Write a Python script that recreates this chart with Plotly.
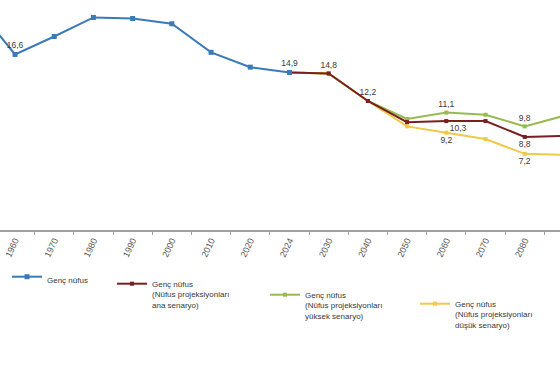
import plotly.graph_objects as go

# ---- data ----
years = ["1950", "1960", "1970", "1980", "1990", "2000", "2010", "2020", "2024",
         "2030", "2040", "2050", "2060", "2070", "2080", "2090"]

obs_years = ["1950", "1960", "1970", "1980", "1990", "2000", "2010", "2020", "2024"]
obs_vals = [21.2, 16.6, 18.3, 20.1, 20.0, 19.5, 16.8, 15.4, 14.9]
obs_labeled = ["1960", "2024"]

proj_years = ["2024", "2030", "2040", "2050", "2060", "2070", "2080", "2090"]
main_vals = [14.9, 14.8, 12.2, 10.2, 10.3, 10.3, 8.8, 8.9]
high_vals = [14.9, 14.8, 12.2, 10.5, 11.1, 10.9, 9.8, 10.8]
low_vals = [14.9, 14.8, 12.2, 9.8, 9.2, 8.6, 7.2, 7.1]
main_labeled = ["2030", "2040", "2060", "2080"]
high_labeled = ["2060", "2080"]
low_labeled = ["2060", "2080"]

names = [
    "Genç nüfus",
    "Genç nüfus<br>(Nüfus projeksiyonları<br>ana senaryo)",
    "Genç nüfus<br>(Nüfus projeksiyonları<br>yüksek senaryo)",
    "Genç nüfus<br>(Nüfus projeksiyonları<br>düşük senaryo)",
]

# ---- styles ----
C_BLUE = "#3A7AB6"
C_BROWN = "#7A1E22"
C_GREEN = "#98BB50"
C_YELLOW = "#F0C94A"
TXT = "#383838"
FONT = "Liberation Sans, Arial, sans-serif"

pos = {y: i for i, y in enumerate(years)}


def xs(yrs):
    return [pos[y] for y in yrs]


def fmt(v):
    return f"{v:.1f}".replace(".", ",")


def labels(yrs, vals, keep):
    return [fmt(v) if y in keep else "" for y, v in zip(yrs, vals)]


fig = go.Figure()

fig.add_trace(go.Scatter(
    x=xs(proj_years), y=high_vals, name=names[2], legend="legend3",
    mode="lines+markers+text",
    line=dict(color=C_GREEN, width=2), marker=dict(size=4, symbol="square"),
    text=labels(proj_years, high_vals, high_labeled),
    textposition="top center",
    textfont=dict(size=8.5, color=TXT, family=FONT),
    cliponaxis=False,
))
fig.add_trace(go.Scatter(
    x=xs(proj_years), y=low_vals, name=names[3], legend="legend4",
    mode="lines+markers+text",
    line=dict(color=C_YELLOW, width=2), marker=dict(size=4, symbol="square"),
    text=labels(proj_years, low_vals, low_labeled),
    textposition="bottom center",
    textfont=dict(size=8.5, color=TXT, family=FONT),
    cliponaxis=False,
))
main_pos = ["top center"] * len(proj_years)
main_pos[proj_years.index("2060")] = "bottom right"
main_pos[proj_years.index("2080")] = "bottom center"
fig.add_trace(go.Scatter(
    x=xs(proj_years), y=main_vals, name=names[1], legend="legend2",
    mode="lines+markers+text",
    line=dict(color=C_BROWN, width=2), marker=dict(size=4, symbol="square"),
    text=labels(proj_years, main_vals, main_labeled),
    textposition=main_pos,
    textfont=dict(size=8.5, color=TXT, family=FONT),
    cliponaxis=False,
))
fig.add_trace(go.Scatter(
    x=xs(obs_years), y=obs_vals, name=names[0], legend="legend",
    mode="lines+markers+text",
    line=dict(color=C_BLUE, width=2), marker=dict(size=5, symbol="square"),
    text=labels(obs_years, obs_vals, obs_labeled),
    textposition="top center",
    textfont=dict(size=8.5, color=TXT, family=FONT),
    cliponaxis=True,
))

leg_common = dict(
    xref="paper", yref="paper", xanchor="left", yanchor="top",
    font=dict(size=8, color=TXT, family=FONT), bgcolor="rgba(0,0,0,0)",
    valign="top", itemwidth=30,
)
PLOT_H = 230.0


def ly(py):
    return (PLOT_H - py) / PLOT_H


fig.update_layout(
    width=560, height=380,
    margin=dict(l=0, r=0, t=0, b=150, autoexpand=False),
    paper_bgcolor="white", plot_bgcolor="white",
    showlegend=True,
    legend=dict(x=7 / 560, y=ly(265), **leg_common),
    legend2=dict(x=112 / 560, y=ly(272), **leg_common),
    legend3=dict(x=265 / 560, y=ly(283), **leg_common),
    legend4=dict(x=415 / 560, y=ly(292), **leg_common),
    xaxis=dict(
        type="linear",
        range=[0.617, 14.9],
        tickmode="array", tickvals=list(range(len(years))), ticktext=years,
        showline=True, linecolor="#A0A0A0", linewidth=1.5,
        ticks="",
        minor=dict(tickmode="array",
                   tickvals=[i + 0.5 for i in range(len(years))],
                   ticks="outside", ticklen=3, tickcolor="#A0A0A0",
                   showgrid=False),
        tickangle=-65, tickfont=dict(size=9, color="#595959", family=FONT),
        showgrid=False, zeroline=False, automargin=False,
    ),
    yaxis=dict(range=[0, 21.75], visible=False, showgrid=False,
               zeroline=False, automargin=False),
)

fig.write_html("out.html", config={"displayModeBar": False},
               post_script="document.body.style.margin='0';")
